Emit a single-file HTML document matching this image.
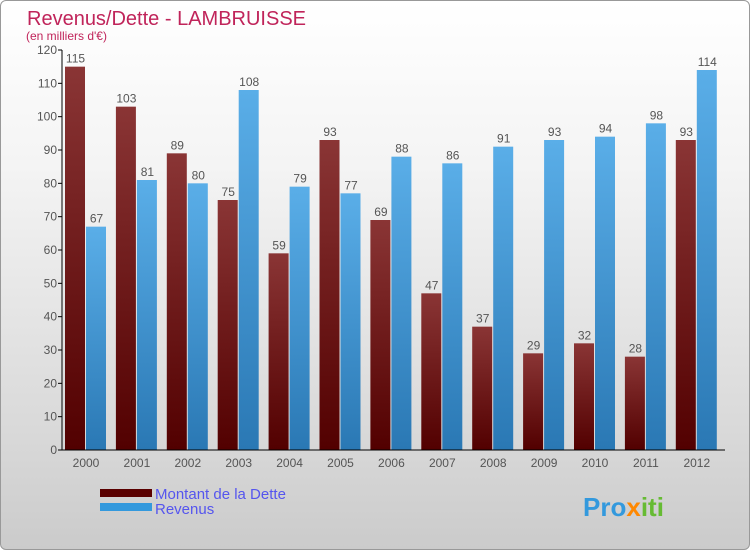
<!DOCTYPE html>
<html><head><meta charset="utf-8"><style>
html,body{margin:0;padding:0}
body{width:750px;height:550px;overflow:hidden;font-family:"Liberation Sans","DejaVu Sans",sans-serif}
#wrap{position:absolute;left:0;top:0;width:748px;height:548px;border:1px solid #999;border-radius:6px;background:linear-gradient(#fff,#f4f4f4 30%,#d8d8d8 80%,#cbcbcb)}
</style></head><body>
<div id="wrap"></div>
<svg id="c" width="750" height="550" style="position:absolute;left:0;top:0">
<defs>
<linearGradient id="gd" x1="0" y1="0" x2="0" y2="1"><stop offset="0" stop-color="#8a3535"/><stop offset="1" stop-color="#520000"/></linearGradient>
<linearGradient id="gr" x1="0" y1="0" x2="0" y2="1"><stop offset="0" stop-color="#5aaee8"/><stop offset="1" stop-color="#2a78b4"/></linearGradient>
</defs>
<text x="27" y="25" font-size="20" fill="#c0245a">Revenus/Dette - LAMBRUISSE</text>
<text x="26" y="40" font-size="12" fill="#c0245a">(en milliers d'€)</text>
<g id="g"></g>
<rect x="100" y="489" width="52" height="8" fill="#5a0000"/>
<rect x="100" y="503" width="52" height="8" fill="#3399dd"/>
<text x="155" y="499" font-size="15" fill="#5555ee">Montant de la Dette</text>
<text x="155" y="514" font-size="15" fill="#5555ee">Revenus</text>
<text x="583" y="516" font-size="26" font-weight="bold" fill="#3399dd">Pro<tspan fill="#ff8800">x</tspan><tspan fill="#66bb33">iti</tspan></text>
</svg>
<script>
const years=["2000","2001","2002","2003","2004","2005","2006","2007","2008","2009","2010","2011","2012"];
const dette=[115,103,89,75,59,93,69,47,37,29,32,28,93];
const revenus=[67,81,80,108,79,77,88,86,91,93,94,98,114];
const ticks=[0,10,20,30,40,50,60,70,80,90,100,110,120];
const g=document.getElementById('g');const NS="http://www.w3.org/2000/svg";
const x0=62,step=50.9,bw=21;
const y=v=>450-v*400/120;
function mk(t,a){const e=document.createElementNS(NS,t);for(const k in a)e.setAttribute(k,a[k]);g.appendChild(e);return e;}
ticks.forEach(t=>{
 const l=mk('line',{x1:58,x2:62,y1:y(t),y2:y(t),stroke:'#000'});
 
 
 const tx=mk('text',{x:57,y:y(t)+4,'font-size':12,fill:'#555','text-anchor':'end'});tx.textContent=t;
 
 
});
years.forEach((yr,i)=>{
 const gx=x0+i*step+3;
 [[dette[i],'url(#gd)','bar-dette',gx],[revenus[i],'url(#gr)','bar-revenus',gx+bw]].forEach(([v,f,n,bx])=>{
  const r=mk('rect',{x:bx,y:y(v),width:bw-1,height:450-y(v),fill:f});
  
  
  const t=mk('text',{x:bx+bw/2,y:y(v)-4,'font-size':12,fill:'#555','text-anchor':'middle'});t.textContent=v;
  
  
 });
 const t=mk('text',{x:gx+bw,y:467,'font-size':12,fill:'#555','text-anchor':'middle'});t.textContent=yr;
 
 
});
const ax=mk('line',{x1:62,x2:62,y1:50,y2:450,stroke:'#000'});


const bx=mk('line',{x1:62,x2:725,y1:450,y2:450,stroke:'#000'});


</script>
</body></html>
